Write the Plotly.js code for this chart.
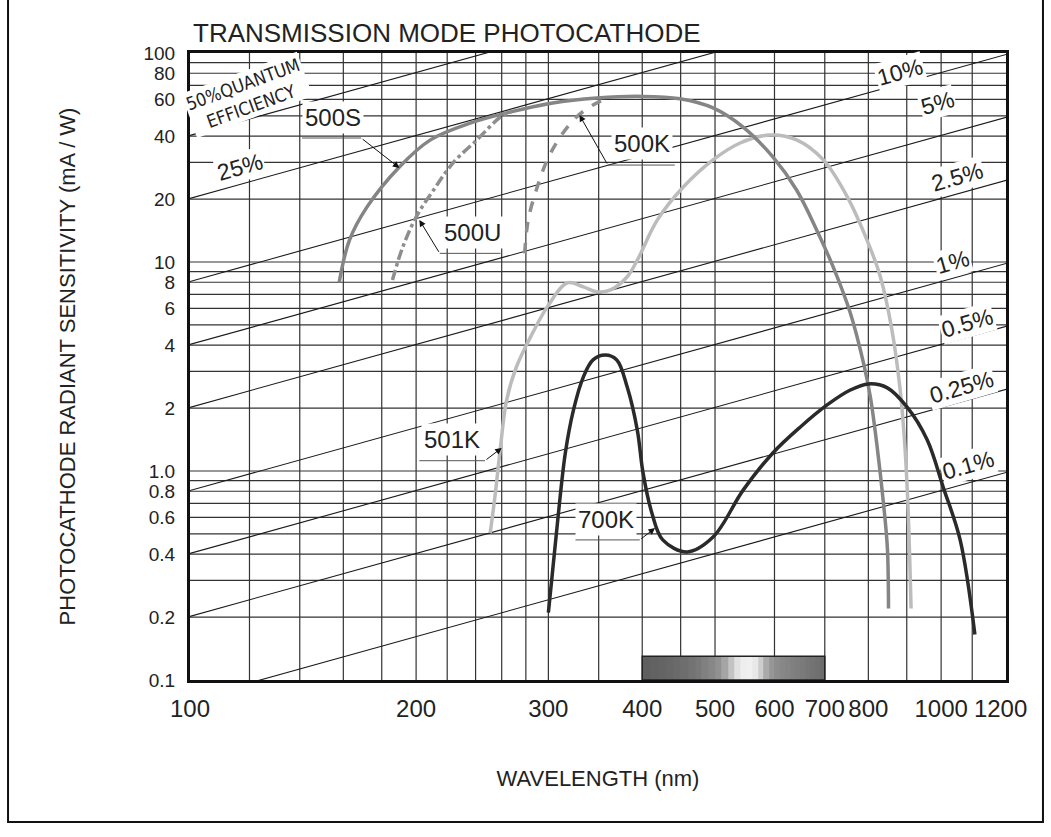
<!DOCTYPE html>
<html><head><meta charset="utf-8">
<script src="https://cdn.plot.ly/plotly-3.0.1.min.js"></script>
<style>html,body{margin:0;padding:0;background:#fff;} #chart{width:1051px;height:837px;}</style>
</head><body><div id="chart"></div>
<script>
// ---- data ----
const wl500S = [158,163,172,190,209,236,264,304,348,400,449,497,545,597,642,683,718,757,788,805,822,838,848,851];
const s500S  = [8.0,12.7,18.3,28.5,38.4,46.2,51.7,57.7,60.9,62,60.4,54.6,44.2,31.8,22.1,14.2,9.5,5.7,3.3,2.26,1.30,0.70,0.43,0.22];

const wl500U = [186,192,200,211,224,241,259,268];
const s500U  = [8.2,11.8,16.4,22.1,29.8,38.4,49.4,52.5];

const wl500K = [279,282,290,299,311,327,344,356];
const s500K  = [11.0,15.9,22.9,30.8,39.6,49.4,56.4,60];

const wl501K = [251,255,259,264,272,284,299,318,334,348,363,382,394,419,454,497,540,592,642,697,750,797,830,860,882,895,904,912];
const s501K  = [0.505,0.785,1.30,2.19,3.15,4.37,6.1,7.95,7.6,7.2,7.35,8.5,10.2,15.9,22.9,30.8,37.1,40.5,38.4,30.8,20.5,12.7,8.5,4.73,2.44,1.30,0.63,0.22];

const wl700K = [300,304,309,316,324,334,344,357,370,382,394,401,412,426,459,497,545,597,649,705,757,800,848,901,958,1006,1060,1109];
const s700K  = [0.21,0.336,0.60,1.22,1.96,2.82,3.4,3.59,3.4,2.52,1.57,0.98,0.63,0.468,0.41,0.483,0.81,1.22,1.62,2.07,2.44,2.61,2.5,2.02,1.41,0.84,0.468,0.165];

// quantum-efficiency guide lines (percent)
const qeLevels = [50,25,10,5,2.5,1,0.5,0.25,0.1];
const qeLineWl = [100,1300];
const qeLabels = ['50%QUANTUM<br>EFFICIENCY','25%','10%','5%','2.5%','1%','0.5%','0.25%','0.1%'];
const qeLabelWl = [119,116.6,882,990,1050,1037,1083,1066,1087];
const qeLabelS  = [63,28.5,81,57.6,25.5,10,5.12,2.52,1.07];

// curve labels
const curveNames   = ['500S','500U','500K','501K','700K'];
const labelWl      = [155,238,400,223,358];
const labelS       = [48.9,13.9,36.7,1.42,0.589];
const underlineWl0 = [141,215,360,202,326];
const underlineWl1 = [169,259,442,247,397];
const underlineS   = [39.2,11.0,29.1,1.12,0.468];
const arrowTailWl  = [169,215,360,247,397];
const arrowTailS   = [39.2,11.0,29.1,1.12,0.468];
const arrowHeadWl  = [190,202,330,260,416];
const arrowHeadS   = [28.2,15.9,50.5,1.29,0.533];

// axes
const xTickVals = [100,200,300,400,500,600,700,800,1000,1200];
const xTickText = ['100','200','300','400','500','600','700','800','1000','1200'];
const xGrid = [120,140,160,180,200,220,240,260,280,300,350,400,450,500,600,700,800,900,1000,1100];
const yTickVals = [0.1,0.2,0.4,0.6,0.8,1,2,4,6,8,10,20,40,60,80,100];
const yTickText = ['0.1','0.2','0.4','0.6','0.8','1.0','2','4','6','8','10','20','40','60','80','100'];
const yGrid = [0.2,0.3,0.4,0.5,0.6,0.7,0.8,0.9,1,2,3,4,5,6,7,8,9,10,20,30,40,50,60,70,80,90];

// visible spectrum bar shading (grey level per 10 nm cell)
const visEdges = [400,410,420,430,440,450,460,470,480,490,500,510,520,530,540,550,560,570,580,590,600,610,620,630,640,650,660,670,680,690,700];
const visShade = [95,98,100,103,106,110,115,120,128,135,145,165,195,225,238,240,232,205,170,150,140,135,132,128,125,122,118,115,112,108];

// ---- drawing ----
const FONT = 'Liberation Sans, Arial, Helvetica, sans-serif';
const L = Math.log10;
const traces = [];

traces.push({type:'heatmap', x:visEdges, y:[0.1,0.13], z:[visShade],
  colorscale:[[0,'rgb(0,0,0)'],[1,'rgb(255,255,255)']], zmin:0, zmax:255,
  showscale:false, hoverinfo:'skip'});

qeLevels.forEach(q => {
  traces.push({type:'scatter', mode:'lines', x:qeLineWl,
    y:qeLineWl.map(w => q/100*w/1.24), line:{color:'#1a1a1a', width:1.1},
    hoverinfo:'skip', showlegend:false});
});

function curve(x, y, color, dash, name){
  return {type:'scatter', mode:'lines', name:name, x:x, y:y,
    line:{color:color, width:3.5, dash:dash, shape:'spline', smoothing:1}};
}
traces.push(curve(wl501K, s501K, '#bcbcbc', 'solid', '501K'));
traces.push(curve(wl500S, s500S, '#858585', 'solid', '500S'));
traces.push(curve(wl500U, s500U, '#8e8e8e', 'dashdot', '500U'));
traces.push(curve(wl500K, s500K, '#8e8e8e', 'dash', '500K'));
traces.push(curve(wl700K, s700K, '#2a2a2a', 'solid', '700K'));

const shapes = [];
xGrid.forEach(v => shapes.push({type:'line', xref:'x', yref:'paper', x0:v, x1:v, y0:0, y1:1,
  line:{color:'#333', width:1.2}, layer:'below'}));
yGrid.forEach(v => shapes.push({type:'line', xref:'paper', yref:'y', x0:0, x1:1, y0:v, y1:v,
  line:{color:'#333', width:1.2}, layer:'below'}));
// spectrum outline
shapes.push({type:'rect', xref:'x', yref:'y', x0:visEdges[0], x1:visEdges[visEdges.length-1], y0:0.1, y1:0.13,
  line:{color:'#222', width:1.5}, layer:'above'});
// underlines of curve labels
curveNames.forEach((n,i) => shapes.push({type:'line', xref:'x', yref:'y',
  x0:underlineWl0[i], x1:underlineWl1[i], y0:underlineS[i], y1:underlineS[i],
  line:{color:'#555', width:1}, layer:'above'}));
// outer frame of the picture
shapes.push({type:'path', xref:'paper', yref:'paper',
  path:'M -0.223 1.09 L -0.223 -0.2265 L 1.0453 -0.2265 L 1.0453 1.09',
  line:{color:'#111', width:2}});

const annotations = [];
qeLabels.forEach((t,i) => {
  const first = i === 0;
  annotations.push({xref:'x', yref:'y', x:L(qeLabelWl[i]), y:L(qeLabelS[i]), text:t, showarrow:false,
    textangle: first ? -20 : -16, bgcolor:'#fff', borderpad:1,
    font:{family: first ? 'Liberation Sans Narrow, DejaVu Sans Condensed, sans-serif' : FONT,
          size: first ? 18 : 23, color:'#222'}});
});
curveNames.forEach((n,i) => {
  annotations.push({xref:'x', yref:'y', x:L(labelWl[i]), y:L(labelS[i]), text:n, showarrow:false,
    bgcolor:'#fff', borderpad:2, font:{family:FONT, size:24, color:'#222'}});
  annotations.push({xref:'x', yref:'y', axref:'x', ayref:'y', x:L(arrowHeadWl[i]), y:L(arrowHeadS[i]),
    ax:L(arrowTailWl[i]), ay:L(arrowTailS[i]), text:'', font:{size:1},
    showarrow:true, arrowhead:2, arrowsize:1.3, arrowwidth:1, arrowcolor:'#111', standoff:0, startstandoff:0});
});

const layout = {
  width:1051, height:837,
  margin:{l:190, r:45, t:53, b:157, pad:0},
  paper_bgcolor:'#fff', plot_bgcolor:'#fff',
  showlegend:false,
  title:{text:'TRANSMISSION MODE PHOTOCATHODE', xref:'container', x:193/1051, xanchor:'left',
    yref:'container', y:1-33/837, yanchor:'middle', font:{family:FONT, size:26, color:'#222'}},
  xaxis:{type:'log', range:[2, L(1220)], tickmode:'array', tickvals:xTickVals, ticktext:xTickText,
    tickangle:0, ticks:'', showgrid:false, zeroline:false, showline:true, mirror:true,
    linewidth:3, linecolor:'#111', tickfont:{family:FONT, size:24, color:'#222'},
    ticklabelstandoff:5,
    title:{text:'WAVELENGTH (nm)', font:{family:FONT, size:22, color:'#222'}, standoff:50},
    automargin:false, fixedrange:true},
  yaxis:{type:'log', range:[-1, 2], tickmode:'array', tickvals:yTickVals, ticktext:yTickText,
    ticks:'', showgrid:false, zeroline:false, showline:true, mirror:true,
    linewidth:3, linecolor:'#111', tickfont:{family:FONT, size:19, color:'#222'},
    ticklabelstandoff:8,
    title:{text:'PHOTOCATHODE RADIANT SENSITIVITY (mA / W)', font:{family:FONT, size:22, color:'#222'}, standoff:62},
    automargin:false, fixedrange:true},
  shapes:shapes,
  annotations:annotations
};

Plotly.newPlot('chart', traces, layout, {displayModeBar:false, staticPlot:true});
</script>
</body></html>
